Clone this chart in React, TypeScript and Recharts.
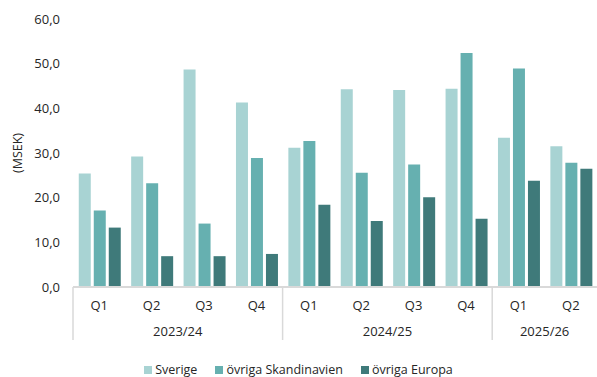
import React from 'react';
import { BarChart, Bar, XAxis, YAxis, Legend, Label } from 'recharts';

// Quarter labels and fiscal years per category
const quarters = ['Q1', 'Q2', 'Q3', 'Q4', 'Q1', 'Q2', 'Q3', 'Q4', 'Q1', 'Q2'];
const years = ['2023/24', '2023/24', '2023/24', '2023/24', '2024/25', '2024/25', '2024/25', '2024/25', '2025/26', '2025/26'];

// Net sales per region (MSEK)
const sverige = [25.4, 29.2, 48.7, 41.3, 31.2, 44.3, 44.1, 44.4, 33.4, 31.5];
const ovrigaSkandinavien = [17.1, 23.2, 14.2, 28.9, 32.7, 25.6, 27.4, 52.4, 48.9, 27.8];
const ovrigaEuropa = [13.3, 6.9, 6.9, 7.4, 18.4, 14.8, 20.1, 15.3, 23.8, 26.5];

const yTicks = [0, 10, 20, 30, 40, 50, 60];

const data = quarters.map((q, i) => ({
  key: `${years[i]}-${q}`,
  q,
  year: years[i],
  sverige: sverige[i],
  skand: ovrigaSkandinavien[i],
  europa: ovrigaEuropa[i],
}));

const FONT = "'Open Sans', sans-serif";
const TEXT = '#262626';
const GRID = '#d9d9d9';

const series = [
  { key: 'sverige', name: 'Sverige', color: '#a8d3d3' },
  { key: 'skand', name: 'övriga Skandinavien', color: '#66b0b0' },
  { key: 'europa', name: 'övriga Europa', color: '#3f7a7a' },
];

const QuarterTick = (props: any) => {
  const { x, y, payload } = props;
  return (
    <text x={x} y={y} dy={21} textAnchor="middle" fontFamily={FONT} fontSize={13} fill={TEXT}>
      {quarters[payload.index]}
    </text>
  );
};

// Draws the fiscal year label centred under its quarters, with a divider at the group start
const YearTick = (props: any) => {
  const { x, y, payload } = props;
  const i = payload.index;
  if (i > 0 && years[i - 1] === years[i]) return null;
  const half = payload.offset || 0;
  let len = 0;
  while (i + len < years.length && years[i + len] === years[i]) len++;
  const left = x - half;
  const center = left + len * half;
  return (
    <g>
      <line x1={left} x2={left} y1={y - 32} y2={y + 21} stroke={GRID} strokeWidth={1.5} />
      <text x={center} y={y} dy={17} textAnchor="middle" fontFamily={FONT} fontSize={13} fill={TEXT}>
        {years[i]}
      </text>
    </g>
  );
};

const LegendContent = () => (
  <div
    style={{
      height: 30,
      boxSizing: 'border-box',
      paddingTop: 15,
      display: 'flex',
      justifyContent: 'center',
      alignItems: 'center',
      gap: 18,
      fontFamily: FONT,
      fontSize: 12.5,
      color: TEXT,
    }}
  >
    {series.map((s) => (
      <div key={s.key} style={{ display: 'flex', alignItems: 'center' }}>
        <span style={{ width: 8, height: 8, background: s.color, marginRight: 3, display: 'inline-block' }} />
        <span>{s.name}</span>
      </div>
    ))}
  </div>
);

export default function App() {
  return (
    <div style={{ position: 'absolute', left: 0, top: 0, background: '#fff' }}>
      <BarChart
        width={597}
        height={377}
        data={data}
        margin={{ top: 19, right: 0, bottom: 0, left: 0 }}
        barCategoryGap="11%"
        barGap={3}
      >
        <YAxis
          domain={[0, 60]}
          ticks={yTicks}
          interval={0}
          width={73}
          axisLine={false}
          tickLine={false}
          tickSize={0}
          tickMargin={13}
          tickFormatter={(v: number) => v.toFixed(1).replace('.', ',')}
          tick={{ fontFamily: FONT, fontSize: 13, fill: TEXT }}
        >
          <Label
            content={(p: any) => {
              const vb = p.viewBox || {};
              const cy = vb.y + vb.height / 2;
              return (
                <text
                  x={17}
                  y={cy}
                  transform={`rotate(-90, 17, ${cy})`}
                  textAnchor="middle"
                  dominantBaseline="central"
                  fontFamily={FONT}
                  fontSize={12.5}
                  fill={TEXT}
                >
                  (MSEK)
                </text>
              );
            }}
          />
        </YAxis>
        <XAxis
          xAxisId="q"
          dataKey="key"
          height={30}
          interval={0}
          tickLine={false}
          tickSize={0}
          axisLine={{ stroke: GRID, strokeWidth: 2 }}
          tick={<QuarterTick />}
        />
        <XAxis
          xAxisId="year"
          dataKey="key"
          height={30}
          interval={0}
          tickLine={false}
          tickSize={0}
          axisLine={false}
          tick={<YearTick />}
        />
        {series.map((s) => (
          <Bar
            key={s.key}
            xAxisId="q"
            dataKey={s.key}
            name={s.name}
            fill={s.color}
            isAnimationActive={false}
          />
        ))}
        <Legend verticalAlign="bottom" content={<LegendContent />} />
      </BarChart>
    </div>
  );
}
